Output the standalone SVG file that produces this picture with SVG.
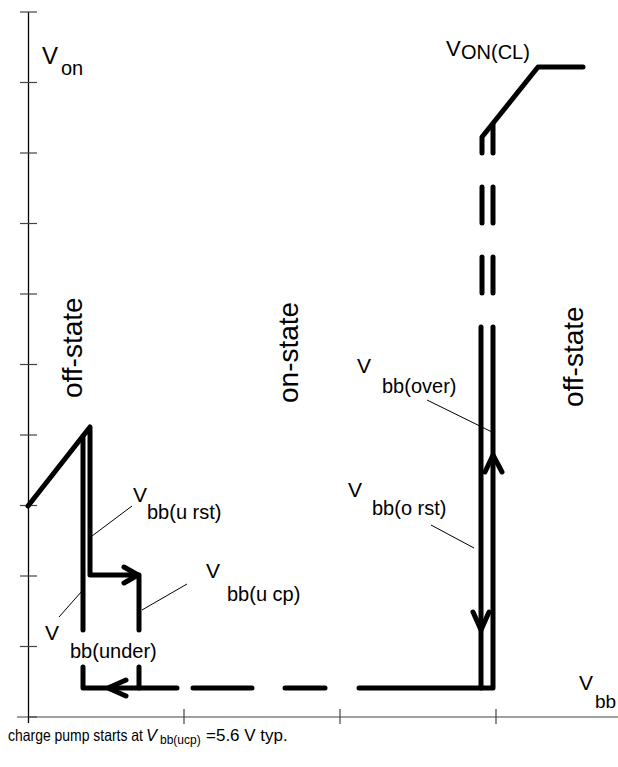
<svg xmlns="http://www.w3.org/2000/svg" width="618" height="767" viewBox="0 0 618 767">
<style>
text{font-family:"Liberation Sans",Arial,sans-serif;fill:#000}
.lbl{font-size:20px}
.big{font-size:21px}
.state{font-size:28px}
.thick{fill:none;stroke:#000;stroke-width:5;stroke-linecap:round;stroke-linejoin:round}
.thin{fill:none;stroke:#000;stroke-width:1}
.tick{stroke:#444;stroke-width:1.2}
</style>
<rect width="618" height="767" fill="#fff"/>
<g id="axes">
  <line x1="17" y1="717" x2="618" y2="717" stroke="#808080" stroke-width="1.5"/>
  <line x1="28.5" y1="12" x2="28.5" y2="723" stroke="#000" stroke-width="1.3"/>
  <g class="tick">
    <line x1="20" y1="12" x2="37" y2="12"/>
    <line x1="20" y1="82.5" x2="37" y2="82.5"/>
    <line x1="20" y1="153" x2="37" y2="153"/>
    <line x1="20" y1="223.5" x2="37" y2="223.5"/>
    <line x1="20" y1="294" x2="37" y2="294"/>
    <line x1="20" y1="364.5" x2="37" y2="364.5"/>
    <line x1="20" y1="435" x2="37" y2="435"/>
    <line x1="20" y1="505.5" x2="37" y2="505.5"/>
    <line x1="20" y1="576" x2="37" y2="576"/>
    <line x1="20" y1="646.5" x2="37" y2="646.5"/>
    <line x1="28.5" y1="717" x2="37" y2="717"/>
    <line x1="184" y1="709" x2="184" y2="724"/>
    <line x1="340" y1="709" x2="340" y2="724"/>
    <line x1="496" y1="709" x2="496" y2="724"/>
  </g>
</g>
<g id="curves">
  <path class="thick" d="M28,506 L90,427 L90,575 L138,575"/>
  <path class="thick" d="M83,436 L83,630"/>
  <path class="thick" d="M83,667 L83,688 L177,688"/>
  <path class="thick" d="M139,575 L139,630"/>
  <path class="thick" d="M139,667 L139,688"/>
  <path class="thick" d="M124,567 L138,575 L124,583"/>
  <path class="thick" d="M126,680 L108,688 L126,696"/>
  <path class="thick" d="M193,688 L252,688"/>
  <path class="thick" d="M285,688 L325,688"/>
  <path class="thick" d="M359,688 L493,688 L493,327"/>
  <path class="thick" d="M481,688 L481,327"/>
  <path class="thick" d="M485,472 L493,455 L502,472"/>
  <path class="thick" d="M473,612 L481,630 L489,612"/>
  <path class="thick" d="M482,153 L482,137 L538,67 L583,67"/>
  <path class="thick" d="M493,153 L493,124"/>
  <path class="thick" d="M482,187 L482,223 M493,187 L493,223"/>
  <path class="thick" d="M482,257 L482,293 M493,257 L493,293"/>
  <line class="thin" x1="88" y1="539" x2="132" y2="506"/>
  <line class="thin" x1="142" y1="610" x2="187" y2="584"/>
  <line class="thin" x1="82" y1="591" x2="59" y2="617"/>
  <line class="thin" x1="427" y1="400" x2="492" y2="432"/>
  <line class="thin" x1="431" y1="525" x2="474" y2="548"/>
</g>
<g id="labels">
  <text x="42" y="64" font-size="24">V</text><text x="61" y="75" class="lbl">on</text>
  <text x="446" y="56" font-size="22">V</text><text x="461" y="59" class="lbl">ON(CL)</text>
  <text x="133" y="502" class="big">V</text><text x="147" y="519" class="lbl">bb(u rst)</text>
  <text x="206" y="578" class="big">V</text><text x="227" y="601" class="lbl">bb(u cp)</text>
  <text x="45" y="640" class="big">V</text><text x="70" y="658" class="lbl">bb(under)</text>
  <text x="357" y="373" class="big">V</text><text x="382" y="393" class="lbl">bb(over)</text>
  <text x="348" y="497" class="big">V</text><text x="372" y="515" class="lbl">bb(o rst)</text>
  <text x="579" y="690" class="big">V</text><text x="595" y="708" font-size="19">bb</text>
  <text class="state" transform="translate(82,398) rotate(-90)">off-state</text>
  <text class="state" transform="translate(298,403) rotate(-90)">on-state</text>
  <text class="state" transform="translate(583,407) rotate(-90)">off-state</text>
  <text y="741" font-size="16.5"><tspan x="8" textLength="135" lengthAdjust="spacingAndGlyphs">charge pump starts at</tspan><tspan x="146" font-style="italic">V</tspan><tspan x="160" y="744" font-size="12">bb(ucp)</tspan><tspan x="206" y="741" font-size="17">=5.6 V typ.</tspan></text>
</g>
</svg>
